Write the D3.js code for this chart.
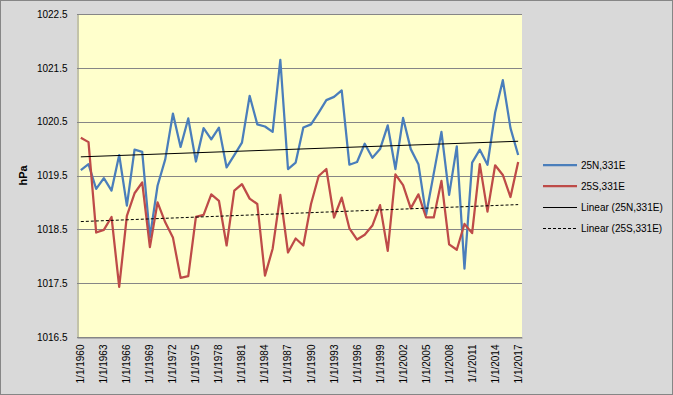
<!DOCTYPE html>
<html>
<head>
<meta charset="utf-8">
<script src="https://cdn.jsdelivr.net/npm/d3@7"></script>
<style>
  body { margin: 0; background: #fff; }
  svg text { font-family: "Liberation Sans", Arial, sans-serif; fill: #000; }
</style>
</head>
<body>
<div id="chart"></div>
<script>
var years = [1960, 1961, 1962, 1963, 1964, 1965, 1966, 1967, 1968, 1969,
             1970, 1971, 1972, 1973, 1974, 1975, 1976, 1977, 1978, 1979,
             1980, 1981, 1982, 1983, 1984, 1985, 1986, 1987, 1988, 1989,
             1990, 1991, 1992, 1993, 1994, 1995, 1996, 1997, 1998, 1999,
             2000, 2001, 2002, 2003, 2004, 2005, 2006, 2007, 2008, 2009,
             2010, 2011, 2012, 2013, 2014, 2015, 2016, 2017];

// 25N,331E
var north = [1019.60, 1019.71, 1019.25, 1019.45, 1019.22, 1019.88, 1018.94, 1019.98, 1019.94, 1018.35,
             1019.31, 1019.80, 1020.65, 1020.03, 1020.56, 1019.76, 1020.38, 1020.17, 1020.39, 1019.65,
             1019.88, 1020.11, 1020.98, 1020.45, 1020.41, 1020.31, 1021.65, 1019.62, 1019.74, 1020.39,
             1020.45, 1020.67, 1020.90, 1020.96, 1021.08, 1019.70, 1019.75, 1020.09, 1019.83, 1019.99,
             1020.43, 1019.62, 1020.57, 1019.99, 1019.71, 1018.77, 1019.54, 1020.31, 1019.14, 1020.04,
             1017.77, 1019.74, 1019.98, 1019.70, 1020.67, 1021.27, 1020.38, 1019.88];

// 25S,331E
var south = [1020.20, 1020.12, 1018.44, 1018.49, 1018.73, 1017.43, 1018.75, 1019.17, 1019.37, 1018.17,
             1019.00, 1018.63, 1018.35, 1017.60, 1017.63, 1018.73, 1018.77, 1019.15, 1019.03, 1018.20,
             1019.22, 1019.34, 1019.07, 1018.97, 1017.64, 1018.14, 1019.14, 1018.07, 1018.33, 1018.20,
             1018.97, 1019.49, 1019.62, 1018.72, 1019.09, 1018.52, 1018.31, 1018.40, 1018.57, 1018.95,
             1018.10, 1019.52, 1019.32, 1018.89, 1019.15, 1018.72, 1018.72, 1019.40, 1018.22, 1018.12,
             1018.60, 1018.43, 1019.71, 1018.83, 1019.69, 1019.51, 1019.10, 1019.75];

var yTicks = [1016.5, 1017.5, 1018.5, 1019.5, 1020.5, 1021.5, 1022.5];
var seriesNames = ["25N,331E", "25S,331E", "Linear (25N,331E)", "Linear (25S,331E)"];

var W = 673, H = 395;
var plotLeft = 77, plotRight = 522, plotTop = 14, plotBottom = 337;

var svg = d3.select("#chart").append("svg")
    .attr("width", W).attr("height", H);

// chart area
svg.append("rect")
    .attr("x", 0.5).attr("y", 0.5)
    .attr("width", W - 1).attr("height", H - 1)
    .attr("fill", "#d9d9d9").attr("stroke", "#868686");

var x = d3.scaleBand().domain(years).range([plotLeft, plotRight]);
var cx = function(d) { return x(d) + x.bandwidth() / 2; };
var y = d3.scaleLinear().domain([1016.5, 1022.5]).range([plotBottom, plotTop]);

svg.append("rect")
    .attr("x", plotLeft).attr("y", plotTop)
    .attr("width", plotRight - plotLeft).attr("height", plotBottom - plotTop)
    .attr("fill", "#ffffcc");

// gridlines
svg.append("g")
  .selectAll("line")
  .data(yTicks)
  .enter().append("line")
    .attr("x1", plotLeft).attr("x2", plotRight)
    .attr("y1", function(d) { return Math.round(y(d)) + 0.5; })
    .attr("y2", function(d) { return Math.round(y(d)) + 0.5; })
    .attr("stroke", "#868686").attr("stroke-width", 1);

// y axis
var yAxis = svg.append("g")
    .attr("transform", "translate(" + (plotLeft + 0.5) + ",0)")
    .call(d3.axisLeft(y).tickValues(yTicks).tickSize(0).tickPadding(10).tickFormat(d3.format(".1f")));
yAxis.select(".domain").attr("stroke", "#868686");
yAxis.selectAll("text").style("font-size", "10px");

// x axis
var xAxis = svg.append("g")
    .attr("transform", "translate(0," + (plotBottom + 0.5) + ")")
    .call(d3.axisBottom(x)
      .tickValues(years.filter(function(d, i) { return i % 3 === 0; }))
      .tickSize(0)
      .tickFormat(function(d) { return "1/1/" + d; }));
xAxis.select(".domain").attr("stroke", "#868686");
xAxis.selectAll("text")
    .style("font-size", "10px")
    .attr("text-anchor", "end")
    .attr("dy", "0.35em")
    .attr("transform", "translate(0,7) rotate(-90)")
    .attr("x", 0).attr("y", 0);

svg.append("text")
    .attr("transform", "translate(27," + ((plotTop + plotBottom) / 2) + ") rotate(-90)")
    .attr("text-anchor", "middle")
    .style("font-size", "11px").style("font-weight", "bold")
    .text("hPa");

// trend lines (least squares over index)
function trend(vals) {
  var n = vals.length;
  var mx = d3.mean(vals, function(d, i) { return i; });
  var my = d3.mean(vals);
  var sxy = d3.sum(vals, function(d, i) { return (i - mx) * (d - my); });
  var sxx = d3.sum(vals, function(d, i) { return (i - mx) * (i - mx); });
  var b = sxy / sxx, a = my - b * mx;
  return [[years[0], a], [years[n - 1], a + b * (n - 1)]];
}

var line = d3.line()
    .x(function(d) { return cx(d[0]); })
    .y(function(d) { return y(d[1]); });

var colors = ["#4a7ebb", "#be4b48"];

[north, south].forEach(function(vals, k) {
  svg.append("path")
      .datum(years.map(function(yr, i) { return [yr, vals[i]]; }))
      .attr("d", line)
      .attr("fill", "none")
      .attr("stroke", colors[k])
      .attr("stroke-width", 2.25)
      .attr("stroke-linejoin", "round");
});

[north, south].forEach(function(vals, k) {
  svg.append("path")
      .datum(trend(vals))
      .attr("d", line)
      .attr("fill", "none")
      .attr("stroke", "#000")
      .attr("stroke-width", 1)
      .attr("stroke-dasharray", k === 1 ? "3,2" : null);
});

// legend
var legend = svg.append("g");
var ly = [165, 186, 207, 228];
seriesNames.forEach(function(name, i) {
  var lineY = i < 2 ? ly[i] : ly[i] + 0.5;
  legend.append("line")
      .attr("x1", 543).attr("x2", 577)
      .attr("y1", lineY).attr("y2", lineY)
      .attr("stroke", i < 2 ? colors[i] : "#000")
      .attr("stroke-width", i < 2 ? 2.25 : 1)
      .attr("stroke-dasharray", i === 3 ? "3,2" : null);
  legend.append("text")
      .attr("x", 581).attr("y", ly[i])
      .attr("dy", "0.35em")
      .style("font-size", "10px")
      .text(name);
});
</script>
</body>
</html>
